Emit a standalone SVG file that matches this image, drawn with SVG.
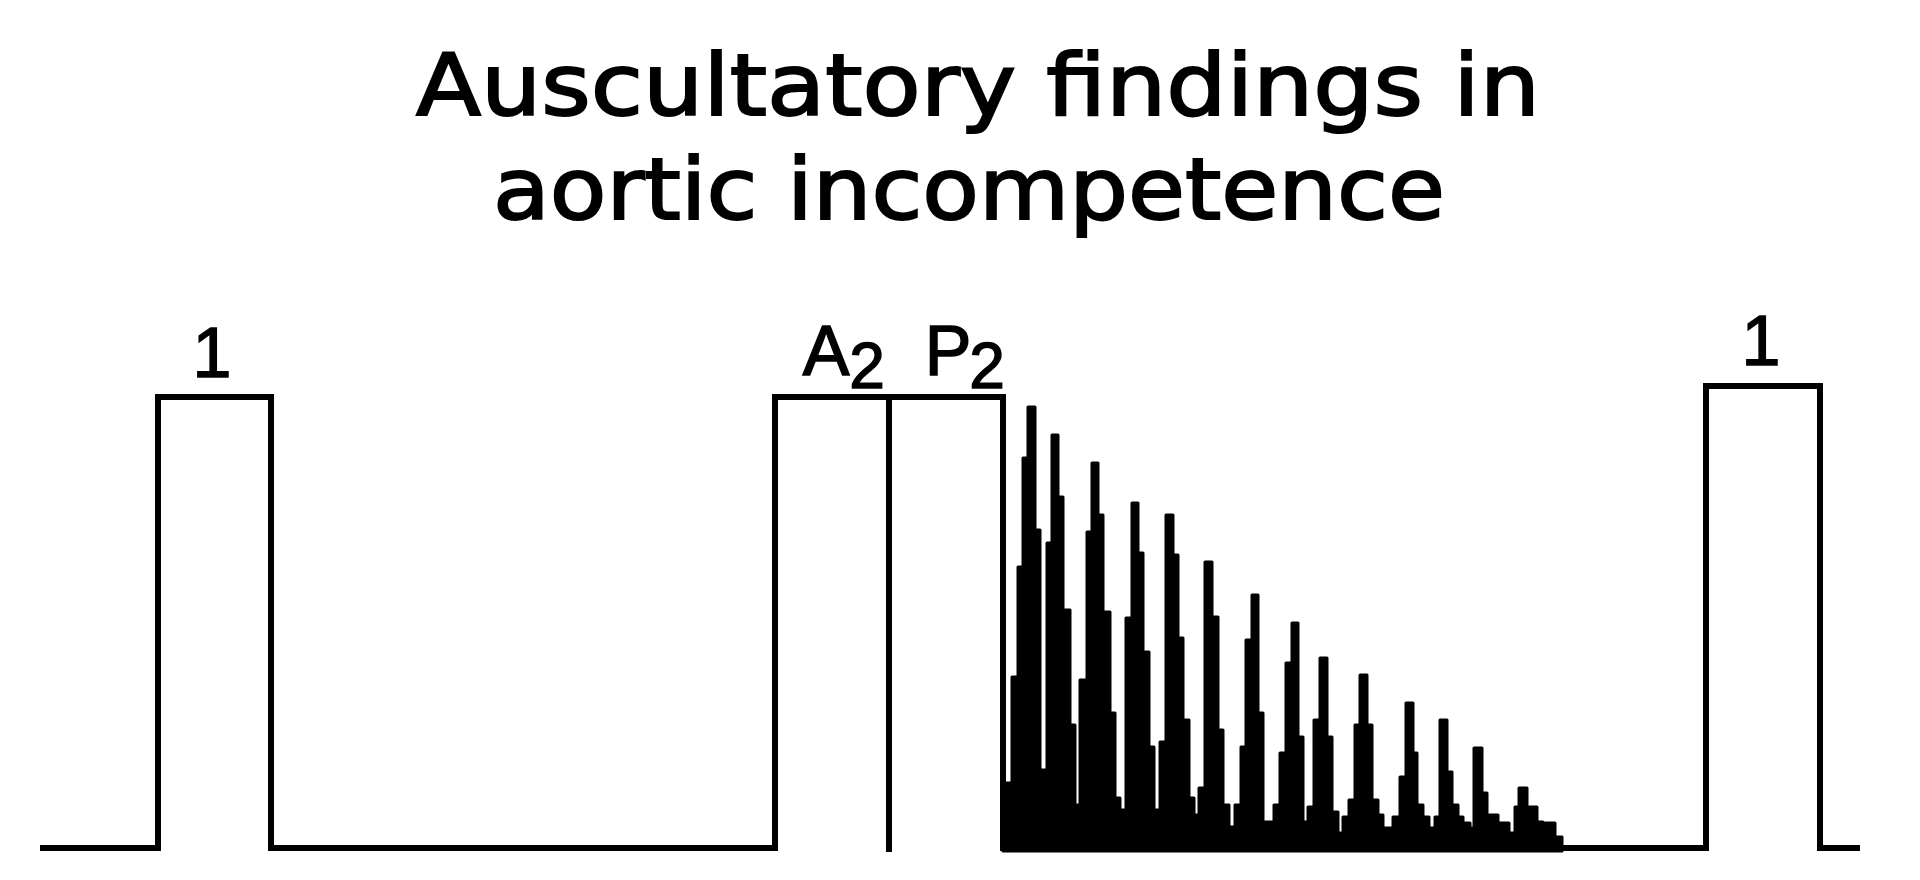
<svg xmlns="http://www.w3.org/2000/svg" width="1920" height="880" viewBox="0 0 1920 880">
<style>
.title{font-family:"DejaVu Sans","Verdana",sans-serif;font-size:86px;fill:#000;stroke:#000;stroke-width:2}
.lbl{font-family:"Liberation Sans",Arial,sans-serif;font-size:70px;fill:#000;stroke:#000;stroke-width:1.5}
.sub{font-family:"Liberation Sans",Arial,sans-serif;font-size:64px;fill:#000;stroke:#000;stroke-width:1.5}
.wave{fill:none;stroke:#000;stroke-width:6;stroke-linejoin:miter}
.fill{fill:#000;stroke:#000;stroke-width:3;stroke-linejoin:round}
</style>
<rect width="1920" height="880" fill="#fff"/>
<g id="title">
<text class="title" x="416" y="115" textLength="1124" lengthAdjust="spacingAndGlyphs">Auscultatory findings in</text>
<text class="title" x="493" y="219" textLength="952" lengthAdjust="spacingAndGlyphs">aortic incompetence</text>
</g>
<g id="s1-first">
<text class="lbl" x="212" y="377" text-anchor="middle">1</text>
</g>
<g id="a2">
<text class="lbl" x="826" y="375" text-anchor="middle">A</text>
<text class="sub" x="867" y="388" text-anchor="middle">2</text>
</g>
<g id="p2">
<text class="lbl" x="948" y="375" text-anchor="middle">P</text>
<text class="sub" x="987" y="388" text-anchor="middle">2</text>
</g>
<g id="s1-second">
<text class="lbl" x="1761" y="365" text-anchor="middle">1</text>
</g>
<g id="connectors">
<path class="wave" d="M40,848 H158 V397 H271 V848 H775 V397 H1003 V848 H1706 V386 H1820 V848 H1860"/>
<path class="wave" d="M889,397 V852"/>
</g>
<g id="murmur">
<path class="fill" d="M1003,851 V783 H1012 V677 H1018 V567 H1023 V458 H1028 V407 H1035 V530 H1040 V770 H1047 V543 H1052 V435 H1058 V497 H1063 V610 H1070 V725 H1075 V805 H1080 V680 H1087 V532 H1092 V463 H1098 V515 H1103 V612 H1110 V713 H1115 V798 H1120 V810 H1126 V618 H1132 V503 H1138 V553 H1143 V652 H1149 V747 H1154 V810 H1160 V742 H1166 V515 H1173 V555 H1178 V638 H1183 V720 H1189 V798 H1194 V815 H1199 V788 H1205 V562 H1212 V617 H1218 V730 H1223 V805 H1229 V827 H1235 V805 H1241 V747 H1246 V640 H1252 V595 H1258 V713 H1263 V822 H1274 V805 H1280 V753 H1286 V663 H1292 V623 H1298 V737 H1303 V822 H1308 V807 H1314 V720 H1320 V658 H1327 V737 H1332 V812 H1338 V833 H1343 V817 H1349 V800 H1355 V725 H1360 V675 H1367 V725 H1372 V800 H1378 V815 H1383 V828 H1393 V817 H1400 V777 H1406 V703 H1413 V753 H1417 V805 H1423 V817 H1429 V828 H1435 V817 H1440 V720 H1447 V772 H1452 V805 H1458 V817 H1463 V823 H1470 V828 H1474 V748 H1482 V793 H1487 V815 H1498 V823 H1509 V833 H1515 V807 H1519 V788 H1527 V807 H1537 V822 H1543 V823 H1555 V837 H1562 V851 Z"/>
</g>
</svg>
